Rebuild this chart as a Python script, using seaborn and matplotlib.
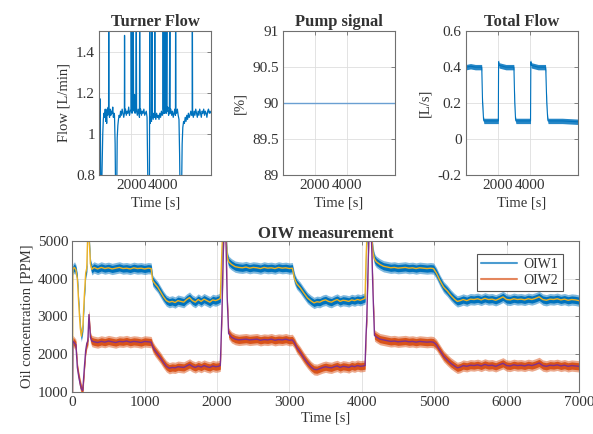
import matplotlib
matplotlib.use("Agg")
import matplotlib.pyplot as plt
from matplotlib.lines import Line2D
import seaborn as sns
import numpy as np

# ---- data ----
# Turner flow [L/min]
turner_time = [0, 35, 55, 75, 95, 140, 175, 215, 250, 290, 330, 370, 400, 430, 460, 490, 520, 560,
               580, 590, 600, 640, 680, 720, 760, 800, 840, 880, 920, 950, 990, 1020, 1090, 1120,
               1160, 1200, 1240, 1290, 1330, 1380, 1430, 1480, 1530, 1570, 1580, 1595, 1640, 1690,
               1740, 1790, 1840, 1890, 1940, 1990, 2000, 2015, 2050, 2064, 2080, 2110, 2127, 2145,
               2180, 2210, 2240, 2290, 2316, 2335, 2380, 2430, 2480, 2515, 2527, 2545, 2590, 2640,
               2690, 2740, 2790, 2840, 2890, 2940, 2990, 3020, 3050, 3140, 3159, 3175, 3220, 3270,
               3306, 3320, 3370, 3420, 3460, 3475, 3490, 3540, 3590, 3640, 3690, 3740, 3790, 3840,
               3890, 3940, 3985, 4000, 4015, 4050, 4064, 4080, 4110, 4150, 4165, 4200, 4230, 4245,
               4290, 4340, 4390, 4420, 4435, 4480, 4530, 4580, 4630, 4680, 4730, 4770, 4780, 4795,
               4840, 4890, 4940, 4990, 5030, 5060, 5150, 5190, 5230, 5280, 5330, 5380, 5430, 5480,
               5530, 5580, 5630, 5680, 5730, 5790, 5820, 5830, 5845, 5890, 5940, 5990, 6040, 6090,
               6140, 6190, 6240, 6290, 6340, 6390, 6440, 6490, 6540, 6590, 6640, 6690, 6740, 6790,
               6840, 6890, 6940, 7000]
turner_flow = [0.70, 0.70, 1.17, 0.95, 0.70, 0.70, 0.85, 1.00, 1.07, 1.10, 1.08, 1.12, 1.06, 1.11,
               1.05, 1.12, 1.09, 1.13, 1.10, 1.60, 1.10, 1.08, 1.12, 1.09, 1.11, 1.10, 1.13, 1.08,
               1.10, 1.09, 0.95, 0.70, 0.70, 0.98, 1.04, 1.07, 1.09, 1.08, 1.11, 1.09, 1.12, 1.10,
               1.08, 1.10, 1.48, 1.10, 1.12, 1.09, 1.11, 1.10, 1.13, 1.09, 1.11, 1.12, 1.60, 1.12,
               1.10, 1.60, 1.15, 1.12, 1.60, 1.13, 1.11, 1.19, 1.10, 1.12, 1.60, 1.11, 1.09, 1.12,
               1.10, 1.08, 1.60, 1.10, 1.12, 1.09, 1.11, 1.10, 1.12, 1.09, 1.10, 1.11, 1.08, 0.90,
               0.70, 0.70, 1.60, 1.05, 1.08, 1.06, 1.60, 1.09, 1.07, 1.10, 1.08, 1.60, 1.09, 1.07,
               1.10, 1.08, 1.09, 1.07, 1.10, 1.08, 1.11, 1.09, 1.10, 1.60, 1.12, 1.10, 1.60, 1.13,
               1.10, 1.60, 1.12, 1.10, 1.60, 1.11, 1.13, 1.09, 1.11, 1.60, 1.10, 1.12, 1.09, 1.11,
               1.08, 1.10, 1.12, 1.09, 1.60, 1.11, 1.10, 1.12, 1.09, 1.07, 0.90, 0.70, 0.70, 0.95,
               1.03, 1.06, 1.05, 1.08, 1.06, 1.09, 1.07, 1.10, 1.08, 1.09, 1.11, 1.09, 1.10, 1.60,
               1.10, 1.08, 1.11, 1.09, 1.12, 1.10, 1.08, 1.11, 1.09, 1.12, 1.10, 1.08, 1.11, 1.10,
               1.12, 1.09, 1.11, 1.10, 1.08, 1.11, 1.12, 1.10, 1.11, 1.10]

# Pump signal [%]
pump_time = [0, 7000]
pump_signal = [90, 90]

# Total flow [L/s]
total_time = [0, 30, 300, 600, 990, 1000, 1050, 1110, 1130, 1500, 2030, 2045, 2070, 2500, 2990,
              3000, 3050, 3100, 3120, 3600, 4030, 4050, 4080, 4500, 4960, 4980, 5040, 5100, 5120,
              6000, 7000]
total_flow = [-0.02, 0.40, 0.405, 0.40, 0.40, 0.39, 0.20, 0.11, 0.10, 0.10, 0.10, 0.43, 0.41, 0.40,
              0.40, 0.39, 0.20, 0.11, 0.10, 0.10, 0.10, 0.43, 0.41, 0.40, 0.40, 0.38, 0.20, 0.11,
              0.10, 0.10, 0.095]
total_noise = 0.015

# OIW measurement [PPM]
oiw_time = [0, 8, 30, 50, 70, 90, 110, 125, 145, 165, 185, 200, 215, 230, 250, 270, 300, 350, 400,
            450, 500, 550, 600, 650, 700, 750, 800, 850, 900, 950, 1000, 1050, 1090, 1110, 1140,
            1180, 1220, 1260, 1300, 1340, 1380, 1420, 1460, 1500, 1540, 1580, 1620, 1660, 1700,
            1740, 1780, 1820, 1860, 1900, 1940, 1980, 2020, 2045, 2058, 2068, 2080, 2095, 2120,
            2140, 2160, 2200, 2250, 2300, 2350, 2400, 2450, 2500, 2550, 2600, 2650, 2700, 2750,
            2800, 2850, 2900, 2950, 3000, 3040, 3070, 3100, 3150, 3200, 3250, 3300, 3340, 3380,
            3420, 3460, 3500, 3540, 3580, 3620, 3660, 3700, 3740, 3780, 3820, 3860, 3900, 3940,
            3980, 4020, 4045, 4058, 4068, 4085, 4100, 4130, 4155, 4175, 4200, 4250, 4300, 4350,
            4400, 4450, 4500, 4550, 4600, 4650, 4700, 4750, 4800, 4850, 4900, 4950, 4990, 5030,
            5080, 5130, 5180, 5230, 5280, 5320, 5360, 5400, 5450, 5500, 5550, 5600, 5650, 5700,
            5750, 5800, 5850, 5900, 5950, 6000, 6050, 6100, 6150, 6200, 6250, 6300, 6350, 6400,
            6450, 6500, 6550, 6600, 6650, 6700, 6750, 6800, 6850, 6900, 6950, 7000]
oiw1 = [0, 4250, 4300, 4230, 4000, 3300, 2700, 2480, 2700, 3500, 4150, 4280, 5300, 5200, 4400,
        4250, 4300, 4260, 4300, 4270, 4290, 4260, 4280, 4300, 4270, 4280, 4260, 4290, 4270, 4280,
        4260, 4280, 4270, 3950, 3870, 3780, 3650, 3520, 3420, 3380, 3400, 3370, 3420, 3400, 3380,
        3450, 3500, 3420, 3380, 3450, 3400, 3460, 3420, 3380, 3440, 3420, 3450, 3480, 4200, 4800,
        5300, 5300, 5300, 4600, 4450, 4380, 4320, 4300, 4290, 4310, 4280, 4300, 4290, 4270, 4300,
        4280, 4290, 4270, 4300, 4280, 4290, 4270, 4280, 4000, 3870, 3760, 3620, 3490, 3410, 3360,
        3390, 3380, 3420, 3440, 3400, 3380, 3420, 3450, 3400, 3430, 3420, 3400, 3440, 3420, 3450,
        3430, 3460, 3480, 4500, 5000, 5300, 5300, 5300, 4700, 4520, 4450, 4380, 4330, 4310, 4290,
        4300, 4280, 4290, 4300, 4280, 4290, 4270, 4290, 4280, 4270, 4280, 4270, 4150, 3950, 3780,
        3680, 3560, 3460, 3400, 3420, 3450, 3420, 3460, 3450, 3470, 3440, 3480, 3450, 3460, 3430,
        3470, 3520, 3450, 3440, 3470, 3450, 3460, 3440, 3470, 3450, 3480, 3520, 3450, 3430, 3460,
        3450, 3470, 3440, 3460, 3430, 3450, 3440, 3420]
oiw2 = [0, 2350, 2300, 2250, 1650, 1400, 1200, 1080, 1040, 1600, 2100, 2280, 2350, 3050, 2450,
        2350, 2330, 2310, 2340, 2320, 2350, 2330, 2310, 2340, 2330, 2350, 2320, 2340, 2330, 2310,
        2340, 2330, 2320, 2200, 2100, 2000, 1900, 1780, 1680, 1630, 1650, 1640, 1670, 1660, 1650,
        1690, 1730, 1680, 1650, 1690, 1660, 1700, 1670, 1650, 1690, 1670, 1680, 1700, 2500, 3100,
        4200, 5300, 5300, 3500, 2550, 2450, 2400, 2380, 2390, 2400, 2380, 2390, 2400, 2370, 2390,
        2380, 2400, 2370, 2390, 2380, 2400, 2370, 2380, 2300, 2180, 2050, 1900, 1770, 1660, 1600,
        1590, 1620, 1650, 1670, 1650, 1640, 1670, 1690, 1650, 1680, 1670, 1650, 1690, 1670, 1700,
        1680, 1690, 1700, 2500, 2900, 4200, 5300, 5300, 3600, 2500, 2460, 2400, 2380, 2360, 2340,
        2350, 2330, 2340, 2350, 2330, 2340, 2320, 2340, 2330, 2320, 2330, 2320, 2250, 2100, 1950,
        1850, 1760, 1690, 1640, 1660, 1700, 1680, 1710, 1700, 1720, 1690, 1730, 1700, 1710, 1680,
        1720, 1760, 1700, 1690, 1720, 1700, 1710, 1690, 1720, 1700, 1730, 1770, 1700, 1680, 1710,
        1700, 1720, 1690, 1710, 1680, 1700, 1690, 1680]
oiw_noise_core = 95
oiw_noise_edge = 150

BLUE = "#0072BD"
RED = "#D95319"
YELLOW = "#EDB120"
PURPLE = "#7E2F8E"
TEXT = "#333333"
FS = 10.5
TICK_FS = 11
TITLE_FS = 12

sns.set_theme(style="whitegrid")
plt.rcParams["font.family"] = ["Liberation Serif", "DejaVu Serif"]
plt.rcParams["text.color"] = TEXT
plt.rcParams["axes.labelcolor"] = TEXT


def style_axes(ax):
    ax.grid(True, color="#dedede", linewidth=0.6)
    for s in ax.spines.values():
        s.set_visible(True)
        s.set_color("#707070")
        s.set_linewidth(0.8)
    ax.tick_params(direction="in", length=3, width=0.6, top=True, right=True,
                   colors="#707070", labelcolor=TEXT, labelsize=TICK_FS, pad=3)


fig = plt.figure(figsize=(5.93, 4.34), dpi=100)
ax_turner = fig.add_axes([0.1675, 0.5975, 0.1884, 0.3304])
ax_pump = fig.add_axes([0.4772, 0.5975, 0.1889, 0.3304])
ax_total = fig.add_axes([0.7853, 0.5975, 0.1899, 0.3304])
ax_oiw = fig.add_axes([0.1219, 0.0968, 0.8544, 0.3479])

# Turner flow
sns.lineplot(x=turner_time, y=turner_flow, ax=ax_turner, color=BLUE, linewidth=0.9)
ax_turner.set_ylim(0.8, 1.5)
ax_turner.set_yticks([0.8, 1.0, 1.2, 1.4])
ax_turner.set_yticklabels(["0.8", "1", "1.2", "1.4"])
ax_turner.set_ylabel("Flow [L/min]", fontsize=FS)
ax_turner.set_title("Turner Flow", fontsize=TITLE_FS, fontweight="bold", pad=4)

# Pump signal
sns.lineplot(x=pump_time, y=pump_signal, ax=ax_pump, color="#6a9fd2", linewidth=1.0)
ax_pump.set_ylim(89, 91)
ax_pump.set_yticks([89, 89.5, 90, 90.5, 91])
ax_pump.set_yticklabels(["89", "89.5", "90", "90.5", "91"])
ax_pump.set_ylabel("[%]", fontsize=FS)
ax_pump.set_title("Pump signal", fontsize=TITLE_FS, fontweight="bold", pad=4)

# Total flow
tt = np.array(total_time)
tf = np.array(total_flow)
ax_total.fill_between(tt, tf - total_noise, tf + total_noise, color=BLUE, alpha=0.85, linewidth=0)
sns.lineplot(x=total_time, y=total_flow, ax=ax_total, color=BLUE, linewidth=0.8)
ax_total.set_ylim(-0.2, 0.6)
ax_total.set_yticks([-0.2, 0, 0.2, 0.4, 0.6])
ax_total.set_yticklabels(["-0.2", "0", "0.2", "0.4", "0.6"])
ax_total.set_ylabel("[L/s]", fontsize=FS)
ax_total.set_title("Total Flow", fontsize=TITLE_FS, fontweight="bold", pad=4)

for ax in (ax_turner, ax_pump, ax_total):
    ax.set_xlim(0, 7000)
    ax.set_xticks([2000, 4000])
    ax.set_xticklabels(["2000", "4000"])
    ax.set_xlabel("Time [s]", fontsize=FS, labelpad=3)
    style_axes(ax)

# OIW measurement
ot = np.array(oiw_time)
for vals, col in ((oiw1, BLUE), (oiw2, RED)):
    v = np.array(vals)
    ax_oiw.fill_between(ot, v - oiw_noise_edge, v + oiw_noise_edge, color=col, alpha=0.5, linewidth=0)
    ax_oiw.fill_between(ot, v - oiw_noise_core, v + oiw_noise_core, color=col, alpha=1.0, linewidth=0)
sns.lineplot(x=oiw_time, y=oiw1, ax=ax_oiw, color=YELLOW, linewidth=1.0)
sns.lineplot(x=oiw_time, y=oiw2, ax=ax_oiw, color=PURPLE, linewidth=1.0)
ax_oiw.set_xlim(0, 7000)
ax_oiw.set_ylim(1000, 5000)
ax_oiw.set_xticks(range(0, 7001, 1000))
ax_oiw.set_yticks(range(1000, 5001, 1000))
ax_oiw.set_xlabel("Time [s]", fontsize=FS, labelpad=2)
ax_oiw.set_ylabel("Oil concentration [PPM]", fontsize=FS, labelpad=3)
ax_oiw.set_title("OIW measurement", fontsize=TITLE_FS, fontweight="bold", pad=2)
style_axes(ax_oiw)

handles = [Line2D([0], [0], color=BLUE, linewidth=1.5, alpha=0.7),
           Line2D([0], [0], color=RED, linewidth=1.5, alpha=0.7)]
leg = ax_oiw.legend(handles, ["OIW1", "OIW2"], loc="upper right", bbox_to_anchor=(0.968, 0.914),
                    fontsize=10, frameon=True, fancybox=False, framealpha=1, edgecolor="#555555",
                    handlelength=2.6, borderpad=0.3, labelspacing=0.2, handletextpad=0.5,
                    borderaxespad=0)
leg.get_frame().set_linewidth(0.8)
for t in leg.get_texts():
    t.set_color(TEXT)

fig.savefig("out.png", dpi=100)
